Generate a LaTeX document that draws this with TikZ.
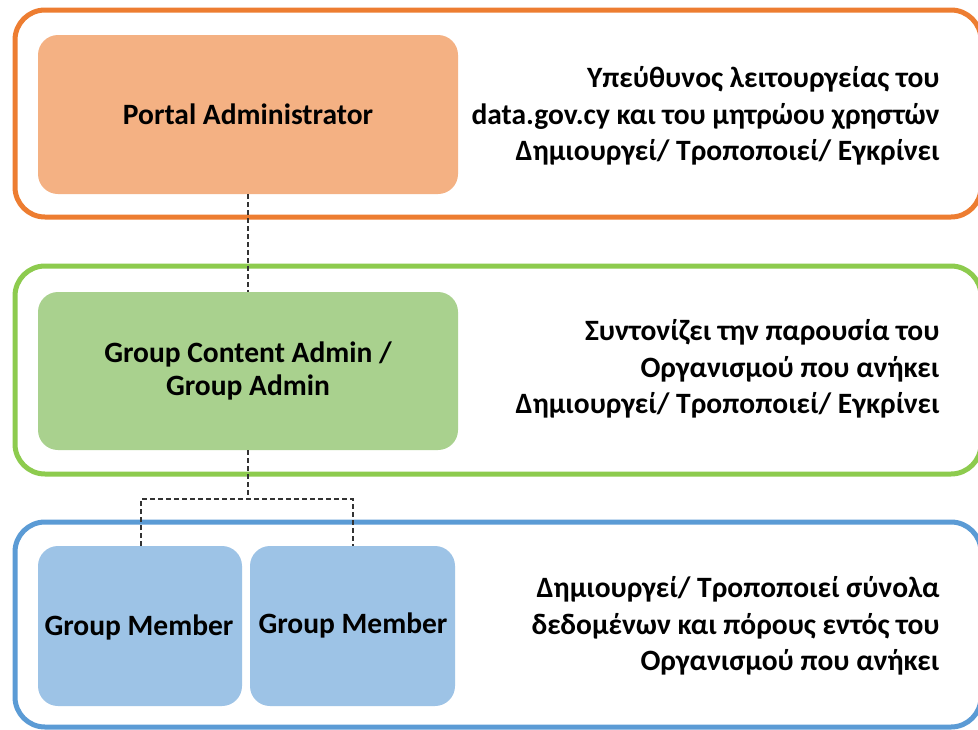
\documentclass[tikz,border=0pt]{standalone}
\usepackage{fontspec}
\setmainfont{Carlito}
\begin{document}
\begin{tikzpicture}[x=1pt,y=-1pt,
  outerbox/.style={line width=5pt,rounded corners=30pt},
  innerbox/.style={rounded corners=20pt},
  roletext/.style={font=\bfseries\fontsize{29.5}{33}\selectfont,align=center,text=black},
  desctext/.style={font=\bfseries\fontsize{29.5}{36.5}\selectfont,align=right,anchor=east,text=black},
  link/.style={draw=black!80,line width=1.3pt,dash pattern=on 5pt off 3pt}
]
\definecolor{orangeline}{HTML}{ED7D31}
\definecolor{orangefill}{HTML}{F4B183}
\definecolor{greenline}{HTML}{8DCB4E}
\definecolor{greenfill}{HTML}{A9D18E}
\definecolor{blueline}{HTML}{5B9BD5}
\definecolor{bluefill}{HTML}{9DC3E6}
\useasboundingbox (0,0) rectangle (978,729);
\fill[white] (0,0) rectangle (978,729);
% outer frames
\draw[outerbox,draw=orangeline] (15,10) rectangle (981,217);
\draw[outerbox,draw=greenline] (15,266) rectangle (981,474);
\draw[outerbox,draw=blueline] (15,522) rectangle (981,727);
% inner boxes
\fill[innerbox,orangefill] (38,35) rectangle (458,194);
\node[roletext] (pa) at (248,114) {Portal Administrator};
\coordinate (paB) at (248,194);
\fill[innerbox,greenfill] (38,292) rectangle (458,450);
\node[roletext] (ga) at (248,371) {Group Content Admin /\\Group Admin};
\coordinate (gaT) at (248,292);
\coordinate (gaB) at (248,450);
\fill[innerbox,bluefill] (38,546) rectangle (242,706);
\fill[innerbox,bluefill] (250,546) rectangle (455,706);
\node[roletext] (gm1) at (139,627) {Group Member};
\node[roletext] (gm2) at (353,625) {Group Member};
\coordinate (gm1T) at (141,546);
\coordinate (gm2T) at (353,546);
\coordinate (split) at (248,499);
% connectors
\draw[link] (paB) -- (gaT);
\draw[link] (gaB) -- (split);
\draw[link] (gm1T) |- (split) -| (gm2T);
% descriptions
\node[desctext] (d1) at (943,116) {Υπεύθυνος λειτουργείας του\\data.gov.cy και του μητρώου χρηστών\\Δημιουργεί/ Τροποποιεί/ Εγκρίνει};
\node[desctext] (d2) at (943,369) {Συντονίζει την παρουσία του\\Οργανισμού που ανήκει\\Δημιουργεί/ Τροποποιεί/ Εγκρίνει};
\node[desctext] (d3) at (943,626) {Δημιουργεί/ Τροποποιεί σύνολα\\δεδομένων και πόρους εντός του\\Οργανισμού που ανήκει};
\end{tikzpicture}
\end{document}
